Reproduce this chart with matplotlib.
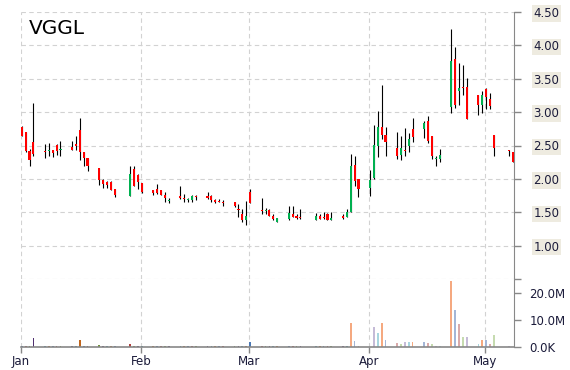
import numpy as np
import pandas as pd
import matplotlib
matplotlib.use("Agg")
import matplotlib.pyplot as plt
import matplotlib.dates as mdates
from matplotlib.ticker import FuncFormatter

# trading days shown on the chart (2019)
dates = [
    "01-01", "01-02", "01-03", "01-04",
    "01-07", "01-08", "01-09", "01-10", "01-11",
    "01-14", "01-15", "01-16", "01-17", "01-18",
    "01-21", "01-22", "01-23", "01-24", "01-25",
    "01-29", "01-30", "01-31", "02-01",
    "02-04", "02-05", "02-06", "02-07", "02-08",
    "02-11", "02-12", "02-13", "02-14", "02-15",
    "02-18", "02-19", "02-20", "02-21", "02-22",
    "02-25", "02-26", "02-27", "02-28", "03-01",
    "03-04", "03-05", "03-06", "03-07", "03-08",
    "03-11", "03-12", "03-13", "03-14",
    "03-18", "03-19", "03-20", "03-21", "03-22",
    "03-25", "03-26", "03-27", "03-28", "03-29",
    "04-01", "04-02", "04-03", "04-04", "04-05",
    "04-08", "04-09", "04-10", "04-11", "04-12",
    "04-15", "04-16", "04-17", "04-18", "04-19",
    "04-22", "04-23", "04-24", "04-25", "04-26",
    "04-29", "04-30", "05-01", "05-02", "05-03",
    "05-07", "05-08",
]

open_ = [2.78, 2.70, 2.42, 2.55,
         2.42, 2.42, 2.43, 2.50, 2.43,
         2.48, 2.52, 2.73, 2.41, 2.32,
         2.17, 1.99, 1.96, 1.96, 1.85,
         1.74, 2.15, 2.06, 1.94,
         1.84, 1.85, 1.83, 1.76, 1.67,
         1.75, 1.71, 1.69, 1.69, 1.74,
         1.75, 1.75, 1.68, 1.67, 1.65,
         1.65, 1.54, 1.48, 1.39, 1.80,
         1.54, 1.52, 1.53, 1.45, 1.36,
         1.40, 1.47, 1.45, 1.42,
         1.39, 1.44, 1.43, 1.48, 1.38,
         1.45, 1.43, 1.50, 2.21, 2.00,
         1.87, 2.01, 2.50, 2.77, 2.65,
         2.47, 2.36, 2.43, 2.49, 2.74,
         2.75, 2.86, 2.64, 2.30, 2.30,
         3.07, 3.79, 3.31, 3.37, 3.38,
         3.25, 3.10, 3.35, 3.20, 2.66,
         2.43, 2.41]
high = [2.79, 2.70, 2.45, 3.13,
        2.52, 2.53, 2.43, 2.52, 2.57,
        2.56, 2.64, 2.91, 2.41, 2.32,
        2.17, 2.00, 1.97, 1.97, 1.85,
        2.20, 2.19, 2.08, 1.94,
        1.84, 1.92, 1.83, 1.81, 1.72,
        1.89, 1.77, 1.71, 1.76, 1.76,
        1.80, 1.76, 1.70, 1.70, 1.68,
        1.66, 1.62, 1.55, 1.67, 1.85,
        1.71, 1.57, 1.55, 1.47, 1.42,
        1.59, 1.59, 1.47, 1.55,
        1.49, 1.48, 1.50, 1.49, 1.51,
        1.47, 1.55, 2.38, 2.34, 2.00,
        2.14, 2.81, 3.02, 3.40, 2.78,
        2.70, 2.64, 2.76, 2.69, 2.91,
        2.86, 2.94, 2.64, 2.35, 2.45,
        4.24, 3.98, 3.73, 3.70, 3.51,
        3.26, 3.31, 3.36, 3.28, 2.66,
        2.44, 2.41]
low = [2.64, 2.40, 2.20, 2.34,
       2.31, 2.35, 2.33, 2.36, 2.35,
       2.43, 2.43, 2.29, 2.20, 2.12,
       1.91, 1.86, 1.86, 1.83, 1.73,
       1.74, 1.89, 1.85, 1.79,
       1.76, 1.77, 1.76, 1.65, 1.64,
       1.70, 1.66, 1.66, 1.66, 1.69,
       1.70, 1.66, 1.64, 1.65, 1.60,
       1.58, 1.43, 1.35, 1.31, 1.64,
       1.47, 1.48, 1.44, 1.39, 1.36,
       1.39, 1.43, 1.40, 1.40,
       1.39, 1.40, 1.40, 1.38, 1.38,
       1.40, 1.43, 1.50, 1.90, 1.73,
       1.74, 2.00, 2.33, 2.59, 2.34,
       2.30, 2.29, 2.35, 2.40, 2.55,
       2.61, 2.53, 2.30, 2.20, 2.26,
       2.99, 3.06, 3.10, 3.26, 2.90,
       2.96, 2.99, 3.04, 3.04, 2.35,
       2.34, 2.25]
close = [2.64, 2.42, 2.28, 2.37,
         2.41, 2.43, 2.39, 2.42, 2.44,
         2.44, 2.50, 2.41, 2.32, 2.19,
         1.99, 1.92, 1.91, 1.84, 1.76,
         2.08, 1.90, 1.95, 1.80,
         1.79, 1.79, 1.76, 1.71, 1.68,
         1.71, 1.70, 1.70, 1.74, 1.73,
         1.71, 1.68, 1.66, 1.66, 1.64,
         1.59, 1.53, 1.39, 1.45, 1.64,
         1.52, 1.54, 1.45, 1.40, 1.42,
         1.49, 1.43, 1.42, 1.41,
         1.45, 1.40, 1.42, 1.38, 1.42,
         1.41, 1.51, 2.19, 1.97, 1.85,
         1.99, 2.50, 2.77, 2.65, 2.55,
         2.34, 2.47, 2.42, 2.59, 2.63,
         2.83, 2.56, 2.34, 2.32, 2.36,
         3.76, 3.11, 3.36, 3.36, 2.90,
         3.10, 3.26, 3.23, 3.09, 2.46,
         2.42, 2.25]
# volume in millions
volume = [0.2, 0.2, 0.2, 3.4,
          0.5, 0.4, 0.5, 0.5, 0.4,
          0.3, 0.4, 2.6, 0.5, 0.4,
          0.6, 0.3, 0.3, 0.4, 0.3,
          1.1, 0.3, 0.2, 0.2,
          0.4, 0.5, 0.4, 0.3, 0.3,
          0.5, 0.5, 0.4, 0.5, 0.4,
          0.3, 0.4, 0.4, 0.5, 0.4,
          0.3, 0.4, 0.4, 0.4, 2.0,
          0.4, 0.4, 0.3, 0.3, 0.3,
          0.4, 0.4, 0.4, 0.3,
          0.4, 0.4, 0.4, 0.4, 0.4,
          0.3, 0.3, 8.8, 2.3, 0.4,
          0.1, 7.5, 5.3, 8.9, 2.5,
          1.4, 1.0, 1.7, 1.7, 2.0,
          1.7, 1.4, 1.0, 0.4, 0.4,
          24.4, 13.7, 8.5, 3.6, 3.6,
          1.0, 2.5, 2.5, 1.0, 4.4,
          0.2, 0.1]

month_labels = ["Jan", "Feb", "Mar", "Apr", "May"]
month_starts = ["2019-01-01", "2019-02-01", "2019-03-01", "2019-04-01", "2019-05-01"]
ticker = "VGGL"

dark_cycle = ["#4a78b5", "#b0413e", "#71943c", "#503070", "#3c93a8", "#c0651c"]
light_cycle = ["#a4b6d6", "#d9aaaa", "#c6dbb0", "#c5bbd7", "#a8d6df", "#f5a980"]

x = mdates.date2num(pd.to_datetime(["2019-" + d for d in dates])) + 0.2
o = np.array(open_)
c = np.array(close)
up = c >= o
body_lo = np.minimum(o, c)
body_h = np.maximum(np.abs(c - o), 0.012)

fig = plt.figure(figsize=(5.7, 3.7), dpi=100)
ax = fig.add_axes([21 / 570, 1 - 279 / 370, 493 / 570, 267 / 370])
axv = fig.add_axes([21 / 570, 1 - 347 / 370, 493 / 570, 68 / 370], sharex=ax)

grid_kw = dict(color="#d2d2d2", linestyle=(0, (4, 3)), linewidth=0.8)
txt_col = "#1b1b3a"

# candles
ax.vlines(x, low, high, color="black", linewidth=0.8, zorder=2)
ax.bar(x, body_h, bottom=body_lo, width=0.55,
       color=np.where(up, "#00b050", "#ff0000"), linewidth=0, zorder=3)

ax.set_ylim(0.5, 4.5)
ax.set_yticks(np.arange(0.5, 4.51, 0.5))
ax.set_yticklabels([""] + ["%.2f" % v for v in np.arange(1.0, 4.51, 0.5)])
ax.yaxis.tick_right()
ax.tick_params(axis="y", length=5, width=1, color="#888888", pad=9,
               labelsize=8.5, labelcolor=txt_col)
for lbl in ax.get_yticklabels():
    if lbl.get_text():
        lbl.set_bbox(dict(facecolor="#eeebe0", edgecolor="none", pad=1.2))
ax.tick_params(axis="x", bottom=False, labelbottom=False)
ax.grid(True, **grid_kw)
ax.set_axisbelow(True)
for side in ["left", "top", "bottom"]:
    ax.spines[side].set_visible(False)
ax.spines["right"].set_color("#888888")
ax.text(0.016, 0.975, ticker, transform=ax.transAxes, ha="left", va="top",
        fontsize=14.5, color="black")

# volume
vcol = [(dark_cycle if i < 59 else light_cycle)[i % 6] for i in range(len(volume))]
axv.bar(x, np.array(volume) * 1e6, width=0.45, color=vcol, linewidth=0, zorder=2)
axv.set_ylim(0, 25.2e6)
axv.set_yticks([0, 10e6, 20e6])
axv.yaxis.set_major_formatter(FuncFormatter(
    lambda v, p: "0.0K" if v == 0 else "%.1fM" % (v / 1e6)))
axv.yaxis.tick_right()
axv.tick_params(axis="y", length=5, width=1, color="#888888", pad=6,
                labelsize=8.5, labelcolor=txt_col)
axv.grid(True, axis="x", **grid_kw)
axv.set_axisbelow(True)
for side in ["left", "top"]:
    axv.spines[side].set_visible(False)
axv.spines["right"].set_color("#888888")
axv.spines["bottom"].set_color("#888888")
axv.spines["bottom"].set_linewidth(1.2)

axv.set_xticks(mdates.date2num(pd.to_datetime(month_starts)))
axv.set_xticklabels(month_labels)
axv.tick_params(axis="x", length=4, width=1, color="#888888", pad=2,
                labelsize=8.5, labelcolor=txt_col)
axv.set_xlim(mdates.date2num(pd.Timestamp("2019-01-01")),
             mdates.date2num(pd.Timestamp("2019-05-08")) + 0.4)

fig.savefig("out.png", dpi=100, facecolor="white")
